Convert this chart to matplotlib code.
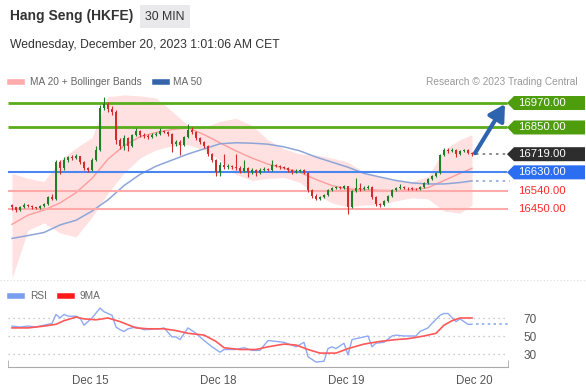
import numpy as np
import matplotlib.pyplot as plt
from matplotlib.patches import Polygon
from matplotlib.lines import Line2D

plt.rcParams['font.family'] = ['Liberation Sans', 'DejaVu Sans']

# 30 min candles, Hang Seng futures
opens = [16470, 16458, 16445, 16462, 16470, 16465, 16458, 16455, 16466, 16475,
         16510, 16500, 16680, 16650, 16690, 16705, 16700, 16710, 16680, 16650,
         16640, 16690, 16740, 16945, 16965, 16940, 16925, 16790, 16760, 16800,
         16760, 16815, 16835, 16815, 16810, 16805, 16815, 16820, 16835, 16830,
         16820, 16770, 16780, 16765, 16805, 16840, 16830, 16800, 16780, 16760,
         16720, 16690, 16630, 16665, 16655, 16660, 16655, 16650, 16635, 16650,
         16630, 16640, 16625, 16640, 16645, 16640, 16665, 16660, 16655, 16650,
         16640, 16630, 16635, 16640, 16625, 16545, 16515, 16500, 16510, 16520,
         16545, 16555, 16558, 16555, 16562, 16460, 16540, 16555, 16550, 16555,
         16560, 16510, 16475, 16470, 16490, 16515, 16545, 16555, 16560, 16555,
         16552, 16550, 16548, 16560, 16580, 16595, 16610, 16625, 16715, 16740,
         16735, 16740, 16720, 16735, 16740, 16725]
closes = [16458, 16445, 16462, 16470, 16465, 16458, 16455, 16466, 16475, 16510,
          16500, 16680, 16650, 16690, 16705, 16700, 16710, 16680, 16650, 16640,
          16690, 16740, 16945, 16965, 16940, 16925, 16790, 16760, 16800, 16760,
          16815, 16835, 16815, 16810, 16805, 16815, 16820, 16835, 16830, 16820,
          16770, 16780, 16765, 16805, 16840, 16830, 16800, 16780, 16760, 16720,
          16690, 16630, 16665, 16655, 16660, 16655, 16650, 16635, 16650, 16630,
          16640, 16625, 16640, 16645, 16640, 16665, 16660, 16655, 16650, 16640,
          16630, 16635, 16640, 16625, 16545, 16515, 16500, 16510, 16520, 16545,
          16555, 16558, 16555, 16562, 16460, 16540, 16555, 16550, 16555, 16560,
          16510, 16475, 16470, 16490, 16515, 16545, 16555, 16560, 16555, 16552,
          16550, 16548, 16560, 16580, 16595, 16610, 16625, 16715, 16740, 16735,
          16740, 16720, 16735, 16740, 16725, 16719]
highs = [16475, 16462, 16466, 16478, 16474, 16470, 16462, 16470, 16482, 16515,
         16525, 16690, 16690, 16705, 16712, 16715, 16718, 16712, 16685, 16655,
         16700, 16760, 16960, 17000, 16975, 16955, 16935, 16800, 16815, 16805,
         16820, 16845, 16840, 16825, 16820, 16825, 16830, 16845, 16840, 16835,
         16825, 16790, 16790, 16810, 16865, 16850, 16835, 16805, 16785, 16765,
         16725, 16695, 16680, 16720, 16670, 16665, 16720, 16660, 16690, 16655,
         16650, 16645, 16650, 16655, 16650, 16690, 16672, 16665, 16660, 16655,
         16645, 16645, 16645, 16645, 16630, 16550, 16525, 16515, 16525, 16550,
         16560, 16565, 16565, 16568, 16565, 16545, 16600, 16580, 16565, 16570,
         16565, 16515, 16480, 16495, 16520, 16550, 16560, 16575, 16565, 16560,
         16558, 16555, 16565, 16585, 16600, 16615, 16630, 16720, 16750, 16750,
         16748, 16745, 16742, 16745, 16745, 16730]
lows = [16445, 16435, 16440, 16455, 16458, 16452, 16448, 16450, 16462, 16470,
        16495, 16495, 16620, 16640, 16680, 16690, 16695, 16672, 16640, 16630,
        16635, 16685, 16735, 16935, 16925, 16910, 16770, 16745, 16740, 16735,
        16755, 16810, 16805, 16800, 16795, 16800, 16810, 16815, 16825, 16810,
        16730, 16760, 16715, 16760, 16800, 16820, 16790, 16770, 16750, 16710,
        16680, 16610, 16610, 16645, 16645, 16645, 16640, 16625, 16630, 16605,
        16620, 16610, 16620, 16635, 16635, 16635, 16655, 16648, 16645, 16630,
        16620, 16625, 16630, 16620, 16535, 16505, 16492, 16495, 16505, 16515,
        16540, 16550, 16548, 16550, 16425, 16455, 16535, 16540, 16545, 16550,
        16500, 16465, 16458, 16465, 16485, 16510, 16540, 16550, 16548, 16545,
        16545, 16542, 16545, 16555, 16575, 16590, 16605, 16620, 16710, 16725,
        16728, 16705, 16715, 16730, 16720, 16712]

# indicators at these bar positions
band_idx = [0, 4, 8, 12, 16, 20, 24, 28, 32, 36, 40, 44, 48, 52, 56,
            60, 64, 68, 72, 76, 80, 84, 88, 92, 96, 100, 104, 108, 112, 115]
bb_upper = [16625, 16600, 16585, 16690, 16750, 16800, 17000, 17010, 17005, 16995,
            16930, 16860, 16850, 16880, 16895, 16860, 16790, 16745, 16720, 16715,
            16700, 16680, 16630, 16605, 16590, 16585, 16610, 16740, 16790, 16815]
bb_lower = [16110, 16347, 16382, 16333, 16313, 16411, 16529, 16627, 16700, 16740,
            16760, 16765, 16740, 16690, 16620, 16590, 16600, 16605, 16580, 16520,
            16480, 16460, 16470, 16470, 16490, 16505, 16500, 16440, 16430, 16470]
ma20 = [16375, 16420, 16445, 16480, 16530, 16600, 16695, 16760, 16805, 16825,
        16840, 16848, 16815, 16775, 16735, 16700, 16670, 16650, 16630, 16595,
        16565, 16548, 16545, 16542, 16540, 16545, 16555, 16590, 16625, 16650]
ma50 = [16306, 16320, 16335, 16372, 16395, 16440, 16495, 16565, 16620, 16660,
        16690, 16720, 16745, 16770, 16775, 16773, 16768, 16755, 16735, 16705,
        16680, 16655, 16625, 16607, 16590, 16578, 16573, 16573, 16580, 16588]

rsi_idx = [0, 2, 4, 6, 8, 10, 11, 12, 13, 14, 16, 17, 18, 20, 22, 23, 24, 25,
           26, 27, 28, 29, 31, 33, 37, 38, 40, 41, 42, 44, 46, 48, 50, 52, 53, 56,
           58, 60, 62, 64, 66, 68, 71, 73, 74, 76, 78, 79, 80, 81, 83, 84, 85, 87,
           89, 90, 91, 93, 95, 96, 98, 101, 102, 104, 105, 107, 108, 109, 111, 112,
           114, 115]
rsi_vals = [61, 60, 61, 60, 62, 64, 74, 70, 74, 72, 72, 70, 62, 70, 81, 77, 75, 73,
            60, 57, 55, 58, 60, 57, 58, 59, 49, 49, 46, 59, 53, 45, 38, 32, 35, 35,
            37, 34, 34, 45, 44, 43, 38, 43, 27, 21, 22, 36, 38, 36, 42, 29, 46, 48,
            50, 38, 42, 43, 50, 51, 50, 50, 55, 59, 64, 73, 75, 75, 66, 69,
            63, 63]
ma9_idx = [0, 4, 8, 11, 13, 16, 18, 21, 24, 27, 31, 34, 38, 41, 44, 48, 51, 53, 57,
           61, 64, 68, 71, 74, 77, 81, 84, 88, 92, 96, 99, 103, 106, 108, 110, 112, 115]
ma9_vals = [59, 59, 61, 63, 67, 71, 69, 68, 70, 66, 59, 58, 58, 56, 53, 51, 44, 37, 35,
            35, 38, 41, 40, 35, 31, 31, 36, 41, 44, 46, 47, 50, 53, 62, 67, 70, 70]

levels_tag = [16970, 16850, 16719, 16630]
tag_colors = ['#4e9d0c', '#4e9d0c', '#2d2d2d', '#2b6ef2']
levels_red = [16540, 16450]
day_ticks = [19.5, 51.5, 83.5, 115.5]
day_labels = ['Dec 15', 'Dec 18', 'Dec 19', 'Dec 20']

W, H = 586, 388


def fx(px):
    return px / W


def fy(py):
    return 1 - py / H


def bx(px):
    # pixel column -> bar index (4 px per bar)
    return (px - 12) / 4


fig = plt.figure(figsize=(W / 100, H / 100), dpi=100)

# --- price panel ---
ax = fig.add_axes([fx(8), fy(280), (W - 8) / W, (280 - 92) / H])
ax.set_xlim(-1, bx(586))
ax.set_ylim(16102, 17024)
ax.axis('off')
upp = (17024 - 16102) / 188  # price per pixel

ax.fill_between(band_idx, bb_lower, bb_upper, color='#ffe1e1', lw=0, zorder=0)
ax.plot(band_idx, ma20, color='#ff9c9c', lw=1, zorder=1)
ax.plot(band_idx, ma50, color='#8ea5d8', lw=1.1, zorder=1)
ax.hlines(ma50[-1], bx(476), bx(510), color='#8ea5d8', ls=(0, (1.5, 2.5)), lw=1.2)

ax.hlines(levels_tag[:2], -1, bx(507), color='#5aad1c', lw=2, zorder=2)
ax.hlines(levels_tag[3], -1, bx(507), color='#4a86f0', lw=1.5, zorder=2)
ax.hlines(levels_red, -1, bx(508), color='#ffaaaa', lw=1.5, zorder=2)
ax.hlines(levels_tag[2], bx(476), bx(507), color='#777777', ls=(0, (1.5, 2.5)), lw=1.2)

o, c = np.array(opens), np.array(closes)
x = np.arange(len(c))
cols = np.where(c >= o, '#1f7f26', '#d42b2b')
ax.vlines(x, lows, highs, colors=cols, lw=0.8, zorder=3)
ax.bar(x, c - o, bottom=o, width=0.7, color=cols, lw=0, zorder=4)

hh = 7 * upp
for lvl, col in zip(levels_tag, tag_colors):
    tip, x0, x1 = bx(507), bx(514), bx(585)
    ax.add_patch(Polygon([(tip, lvl), (x0, lvl + hh), (x1, lvl + hh), (x1, lvl - hh), (x0, lvl - hh)],
                         closed=True, fc=col, ec='none', clip_on=False, zorder=5))
    ax.text(bx(518), lvl, f'{lvl:.2f}', color='white', fontsize=8.2, va='center', ha='left', zorder=6)
for lvl in levels_red:
    ax.text(bx(518), lvl, f'{lvl:.2f}', color='#ff2a2a', fontsize=8.2, va='center', ha='left')

ax.annotate('', xy=(bx(505), levels_tag[0] - 1 * upp), xytext=(bx(475), closes[-1] + 5),
            arrowprops=dict(arrowstyle='-|>,head_length=0.8,head_width=0.45', color='#2e63ad',
                            lw=3, mutation_scale=12, shrinkA=0, shrinkB=0), zorder=6)

# --- RSI panel ---
ax2 = fig.add_axes([fx(8), fy(367), 500 / W, 67 / H])
ax2.set_xlim(-1, 124)
ax2.set_ylim(15.56, 90)
for lvl in (30, 50, 70):
    ax2.axhline(lvl, color='#bbbbbb', ls=(0, (1, 3)), lw=0.9)
ax2.plot(rsi_idx, rsi_vals, color='#8eaaf2', lw=1)
ax2.plot(ma9_idx, ma9_vals, color='#ff5858', lw=1.2)
ax2.hlines(rsi_vals[-1], 116, 124, color='#8eaaf2', ls=(0, (1.5, 2)), lw=1.2)
for s in ('top', 'left', 'right'):
    ax2.spines[s].set_visible(False)
ax2.spines['bottom'].set_color('#aaaaaa')
ax2.yaxis.tick_right()
ax2.set_yticks([30, 50, 70])
ax2.tick_params(axis='y', length=0, pad=11, labelsize=8.5, labelcolor='#555555')
ax2.set_xticks(day_ticks, day_labels)
ax2.tick_params(axis='x', length=0, pad=6, labelsize=8.3, labelcolor='#555555')
ax2.set_xticks([-1, 124], minor=True)
ax2.tick_params(axis='x', which='minor', direction='in', length=5, color='#aaaaaa')

# --- header, legends ---
fig.text(fx(10), fy(16), 'Hang Seng (HKFE)', fontsize=10, weight='bold', color='#333333', va='center')
fig.text(fx(165), fy(16.5), '30 MIN', fontsize=8.8, color='#333333', ha='center', va='center',
         bbox=dict(boxstyle='square,pad=0.45', fc='#e9e9eb', ec='none'))
fig.text(fx(10), fy(45), 'Wednesday, December 20, 2023 1:01:06 AM CET', fontsize=8.7,
         color='#333333', va='center')


def swatch(x0, y, col):
    fig.add_artist(Line2D([fx(x0), fx(x0 + 12)], [fy(y), fy(y)], color=col, lw=4))


swatch(10, 82, '#ffabab')
fig.text(fx(30), fy(82), 'MA 20 + Bollinger Bands', fontsize=7.3, color='#666666', va='center')
swatch(155, 82, '#3564a8')
fig.text(fx(173), fy(82), 'MA 50', fontsize=7.3, color='#666666', va='center')
fig.text(fx(578), fy(82), 'Research © 2023 Trading Central', fontsize=7.3, color='#999999',
         va='center', ha='right')
swatch(10, 296, '#7b9df0')
fig.text(fx(30), fy(296), 'RSI', fontsize=7.3, color='#666666', va='center')
swatch(60, 296, '#ff1a1a')
fig.text(fx(79), fy(296), '9MA', fontsize=7.3, color='#666666', va='center')

fig.add_artist(Line2D([0, 1], [fy(280), fy(280)], color='#dddddd', ls=(0, (1, 2)), lw=0.8))

fig.savefig('out.png', dpi=100)
